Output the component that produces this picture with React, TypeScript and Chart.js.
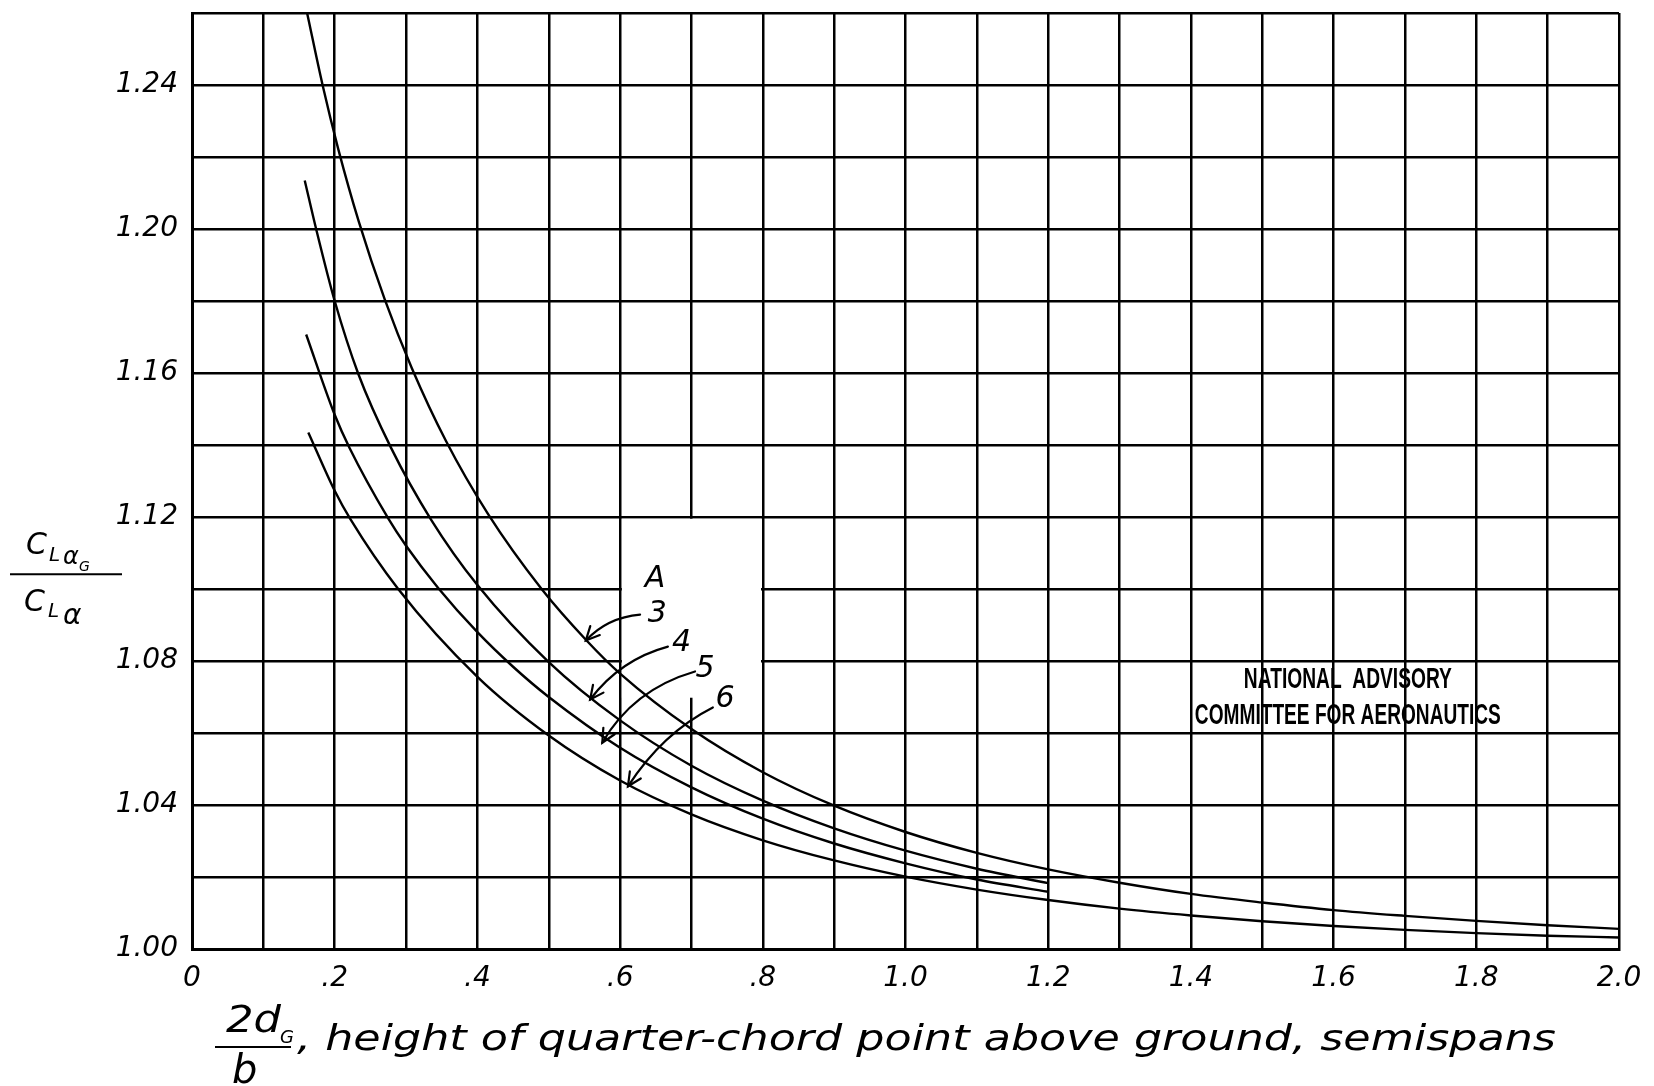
import { useEffect, useRef } from 'react';
import { Chart, registerables } from 'chart.js';

Chart.register(...registerables);

// ---------------- data ----------------
// Aspect ratio A = 3
const A3_X = [0.161, 0.183, 0.205, 0.234, 0.270, 0.308, 0.356, 0.415, 0.490, 0.553, 0.600, 0.700, 0.800, 0.900, 1.000, 1.100, 1.200, 1.300, 1.400, 1.500, 1.600, 1.700, 1.800, 1.900, 2.000];
const A3_Y = [1.2603, 1.2400, 1.2222, 1.2019, 1.1805, 1.1614, 1.1411, 1.1208, 1.1000, 1.0857, 1.0765, 1.0611, 1.0491, 1.0398, 1.0325, 1.0267, 1.0221, 1.0184, 1.0153, 1.0129, 1.0108, 1.0092, 1.0078, 1.0066, 1.0056];
// A = 4
const A4_X = [0.158, 0.174, 0.200, 0.233, 0.279, 0.335, 0.400, 0.500, 0.600, 0.700, 0.800, 0.900, 1.000, 1.100, 1.200];
const A4_Y = [1.2135, 1.2000, 1.1800, 1.1598, 1.1392, 1.1193, 1.1011, 1.0797, 1.0635, 1.0509, 1.0412, 1.0335, 1.0273, 1.0223, 1.0183];
// A = 5
const A5_X = [0.160, 0.200, 0.221, 0.275, 0.300, 0.345, 0.400, 0.450, 0.500, 0.600, 0.700, 0.800, 0.900, 1.000, 1.100, 1.200];
const A5_Y = [1.1707, 1.1484, 1.1391, 1.1196, 1.1120, 1.1003, 1.0880, 1.0784, 1.0700, 1.0559, 1.0449, 1.0362, 1.0293, 1.0238, 1.0193, 1.0159];
// A = 6
const A6_X = [0.163, 0.200, 0.222, 0.289, 0.400, 0.500, 0.600, 0.700, 0.800, 0.900, 1.000, 1.100, 1.200, 1.300, 1.400, 1.500, 1.600, 1.700, 1.800, 1.900, 2.000];
const A6_Y = [1.1435, 1.1273, 1.1194, 1.1000, 1.0756, 1.0593, 1.0468, 1.0374, 1.0302, 1.0246, 1.0201, 1.0165, 1.0136, 1.0112, 1.0093, 1.0077, 1.0064, 1.0053, 1.0044, 1.0037, 1.0032];

const SERIES_NAMES = ['3', '4', '5', '6'];

// axes
const X_MIN = 0;
const X_MAX = 2.0;
const X_STEP = 0.1;
const Y_MIN = 1.0;
const Y_MAX = 1.26;
const Y_STEP = 0.02;

// labels "A", "3".."6" (data coordinates)
const LABEL_TEXT = ['A', '3', '4', '5', '6'];
const LABEL_X = [0.649, 0.652, 0.686, 0.719, 0.747];
const LABEL_Y = [1.1027, 1.0930, 1.0850, 1.0776, 1.0693];

// leader arrows for A = 3..6 (data coordinates)
const ARROW_FROM_X = [0.628, 0.667, 0.705, 0.730];
const ARROW_FROM_Y = [1.0929, 1.0840, 1.0771, 1.0671];
const ARROW_CTRL_X = [0.582, 0.600, 0.618, 0.660];
const ARROW_CTRL_Y = [1.0921, 1.0804, 1.0721, 1.0601];
const ARROW_TIP_X = [0.552, 0.558, 0.575, 0.611];
const ARROW_TIP_Y = [1.0857, 1.0693, 1.0573, 1.0452];

// region of the grid cleared for the labels
const CLEAR_X = [0.6, 0.8];
const CLEAR_Y = [1.0698, 1.12];

// stamp
const STAMP_LINES = ['NATIONAL  ADVISORY', 'COMMITTEE FOR AERONAUTICS'];
const STAMP_X = 1.62;
const STAMP_Y = [1.0754, 1.0654];

const HAND = '"DejaVu Sans", "Liberation Sans", sans-serif';
const STAMP_FONT = '"Liberation Sans Narrow", "Liberation Sans", "DejaVu Sans Condensed", sans-serif';

function pts(xs: number[], ys: number[]) {
  return xs.map((x, i) => ({ x, y: ys[i] }));
}

function fmtX(v: number) {
  const k = Math.round(v * 10);
  if (k % 2 !== 0) return '';
  if (k === 0) return '0';
  if (k < 10) return '.' + k;
  return (k / 10).toFixed(1);
}

function fmtY(v: number) {
  const k = Math.round(v * 100);
  if (k % 4 !== 0) return '';
  return (k / 100).toFixed(2);
}

function fitText(ctx: CanvasRenderingContext2D, text: string, left: number, baseline: number, font: string, width: number) {
  ctx.save();
  ctx.font = font;
  ctx.textAlign = 'left';
  ctx.textBaseline = 'alphabetic';
  const w = ctx.measureText(text).width || 1;
  ctx.translate(left, baseline);
  ctx.scale(width / w, 1);
  ctx.fillText(text, 0, 0);
  ctx.restore();
}

function txt(ctx: CanvasRenderingContext2D, text: string, left: number, baseline: number, font: string) {
  ctx.font = font;
  ctx.textAlign = 'left';
  ctx.textBaseline = 'alphabetic';
  ctx.fillText(text, left, baseline);
  return left + ctx.measureText(text).width;
}

const paperPlugin = {
  id: 'paper',
  beforeDatasetsDraw(chart: any) {
    const { ctx } = chart;
    const xs = chart.scales.x;
    const ys = chart.scales.y;
    const l = xs.getPixelForValue(CLEAR_X[0]) + 1.8;
    const r = xs.getPixelForValue(CLEAR_X[1]) - 1.8;
    const t = ys.getPixelForValue(CLEAR_Y[1]) + 1.8;
    const b = ys.getPixelForValue(CLEAR_Y[0]);
    ctx.save();
    ctx.fillStyle = '#fff';
    ctx.fillRect(l, t, r - l, b - t);
    ctx.restore();
  },
  afterDatasetsDraw(chart: any) {
    const { ctx } = chart;
    const xs = chart.scales.x;
    const ys = chart.scales.y;
    ctx.save();
    ctx.fillStyle = '#000';
    ctx.strokeStyle = '#000';
    // labels
    ctx.font = `italic 30px ${HAND}`;
    ctx.textAlign = 'center';
    ctx.textBaseline = 'middle';
    LABEL_TEXT.forEach((t, i) => {
      ctx.fillText(t, xs.getPixelForValue(LABEL_X[i]), ys.getPixelForValue(LABEL_Y[i]));
    });
    // arrows
    ctx.lineWidth = 2.2;
    ctx.lineCap = 'round';
    for (let i = 0; i < ARROW_TIP_X.length; i++) {
      const x0 = xs.getPixelForValue(ARROW_FROM_X[i]);
      const y0 = ys.getPixelForValue(ARROW_FROM_Y[i]);
      const cx = xs.getPixelForValue(ARROW_CTRL_X[i]);
      const cy = ys.getPixelForValue(ARROW_CTRL_Y[i]);
      const x1 = xs.getPixelForValue(ARROW_TIP_X[i]);
      const y1 = ys.getPixelForValue(ARROW_TIP_Y[i]);
      ctx.beginPath();
      ctx.moveTo(x0, y0);
      ctx.quadraticCurveTo(cx, cy, x1, y1);
      ctx.stroke();
      const ang = Math.atan2(y1 - cy, x1 - cx);
      const len = 15;
      const spread = 0.45;
      ctx.beginPath();
      ctx.moveTo(x1 - len * Math.cos(ang - spread), y1 - len * Math.sin(ang - spread));
      ctx.lineTo(x1, y1);
      ctx.lineTo(x1 - len * Math.cos(ang + spread), y1 - len * Math.sin(ang + spread));
      ctx.stroke();
    }
    // stamp
    const widths = [208, 306];
    const size = 29;
    STAMP_LINES.forEach((line, i) => {
      const cxp = xs.getPixelForValue(STAMP_X);
      const cyp = ys.getPixelForValue(STAMP_Y[i]);
      fitText(ctx, line, cxp - widths[i] / 2, cyp + size * 0.36, `bold ${size}px ${STAMP_FONT}`, widths[i]);
    });
    ctx.restore();
  },
  afterDraw(chart: any) {
    const { ctx } = chart;
    const area = chart.chartArea;
    ctx.save();
    ctx.fillStyle = '#000';
    ctx.strokeStyle = '#000';
    ctx.lineWidth = 2.2;

    // ---- y-axis title: C_{L alpha_G} / C_{L alpha}
    const ys = chart.scales.y;
    const barY = ys.getPixelForValue(1.1041);
    const bx = 66;
    ctx.beginPath();
    ctx.moveTo(bx - 56, barY);
    ctx.lineTo(bx + 56, barY);
    ctx.stroke();
    let p = txt(ctx, 'C', bx - 40, barY - 20, `italic 30px ${HAND}`);
    p = txt(ctx, 'L', p + 2, barY - 13, `italic 20px ${HAND}`);
    p = txt(ctx, 'α', p + 3, barY - 10, `italic 24px ${HAND}`);
    txt(ctx, 'G', p, barY - 3, `italic 14px ${HAND}`);
    p = txt(ctx, 'C', bx - 42, barY + 37, `italic 30px ${HAND}`);
    p = txt(ctx, 'L', p + 3, barY + 43, `italic 20px ${HAND}`);
    txt(ctx, 'α', p + 4, barY + 50, `italic 28px ${HAND}`);

    // ---- x-axis title
    const base = area.bottom;
    ctx.beginPath();
    ctx.moveTo(215, base + 98);
    ctx.lineTo(291, base + 98);
    ctx.stroke();
    fitText(ctx, '2d', 226, base + 83, `italic 38px ${HAND}`, 55);
    txt(ctx, 'G', 280, base + 94, `italic 18px ${HAND}`);
    txt(ctx, 'b', 232, base + 134, `italic 40px ${HAND}`);
    fitText(ctx, ', height of quarter-chord point above ground, semispans', 297, base + 101, `italic 36px ${HAND}`, 1259);
    ctx.restore();
  },
};

export default function App() {
  const ref = useRef<HTMLCanvasElement>(null);
  useEffect(() => {
    const canvas = ref.current;
    if (!canvas) return;
    const series = [pts(A3_X, A3_Y), pts(A4_X, A4_Y), pts(A5_X, A5_Y), pts(A6_X, A6_Y)];
    const tickFont = { family: HAND, size: 28, style: 'italic' as const, weight: 'normal' as const };
    const chart = new Chart(canvas, {
      type: 'line',
      data: {
        datasets: series.map((d, i) => ({
          label: 'A = ' + SERIES_NAMES[i],
          data: d,
          borderColor: '#000',
          borderWidth: 2.4,
          pointRadius: 0,
          fill: false,
          cubicInterpolationMode: 'monotone' as const,
        })),
      },
      options: {
        animation: false,
        responsive: false,
        devicePixelRatio: 1,
        layout: { padding: { top: 13, right: 35, left: 0, bottom: 0 } },
        plugins: {
          legend: { display: false },
          tooltip: { enabled: false },
          title: { display: false },
        },
        scales: {
          x: {
            type: 'linear',
            min: X_MIN,
            max: X_MAX,
            grid: { color: '#000', lineWidth: 2.5, drawTicks: false },
            border: { color: '#000', width: 3 },
            ticks: {
              stepSize: X_STEP,
              autoSkip: false,
              maxRotation: 0,
              minRotation: 0,
              padding: 13,
              color: '#000',
              font: tickFont,
              callback: (v: any) => fmtX(Number(v)),
            },
            afterFit: (s: any) => {
              s.height = 137;
              s.paddingLeft = 0;
              s.paddingRight = 0;
            },
          },
          y: {
            type: 'linear',
            min: Y_MIN,
            max: Y_MAX,
            grid: { color: '#000', lineWidth: 2.5, drawTicks: false },
            border: { color: '#000', width: 3 },
            ticks: {
              stepSize: Y_STEP,
              autoSkip: false,
              padding: 14,
              color: '#000',
              font: tickFont,
              callback: (v: any) => fmtY(Number(v)),
            },
            afterFit: (s: any) => {
              s.width = 192;
              s.paddingTop = 0;
              s.paddingBottom = 0;
            },
          },
        },
      },
      plugins: [paperPlugin],
    });
    return () => chart.destroy();
  }, []);
  return (
    <div style={{ position: 'absolute', left: 0, top: 0, width: 1654, height: 1086, background: '#fff' }}>
      <canvas ref={ref} width={1654} height={1086} style={{ display: 'block', width: 1654, height: 1086 }} />
    </div>
  );
}
